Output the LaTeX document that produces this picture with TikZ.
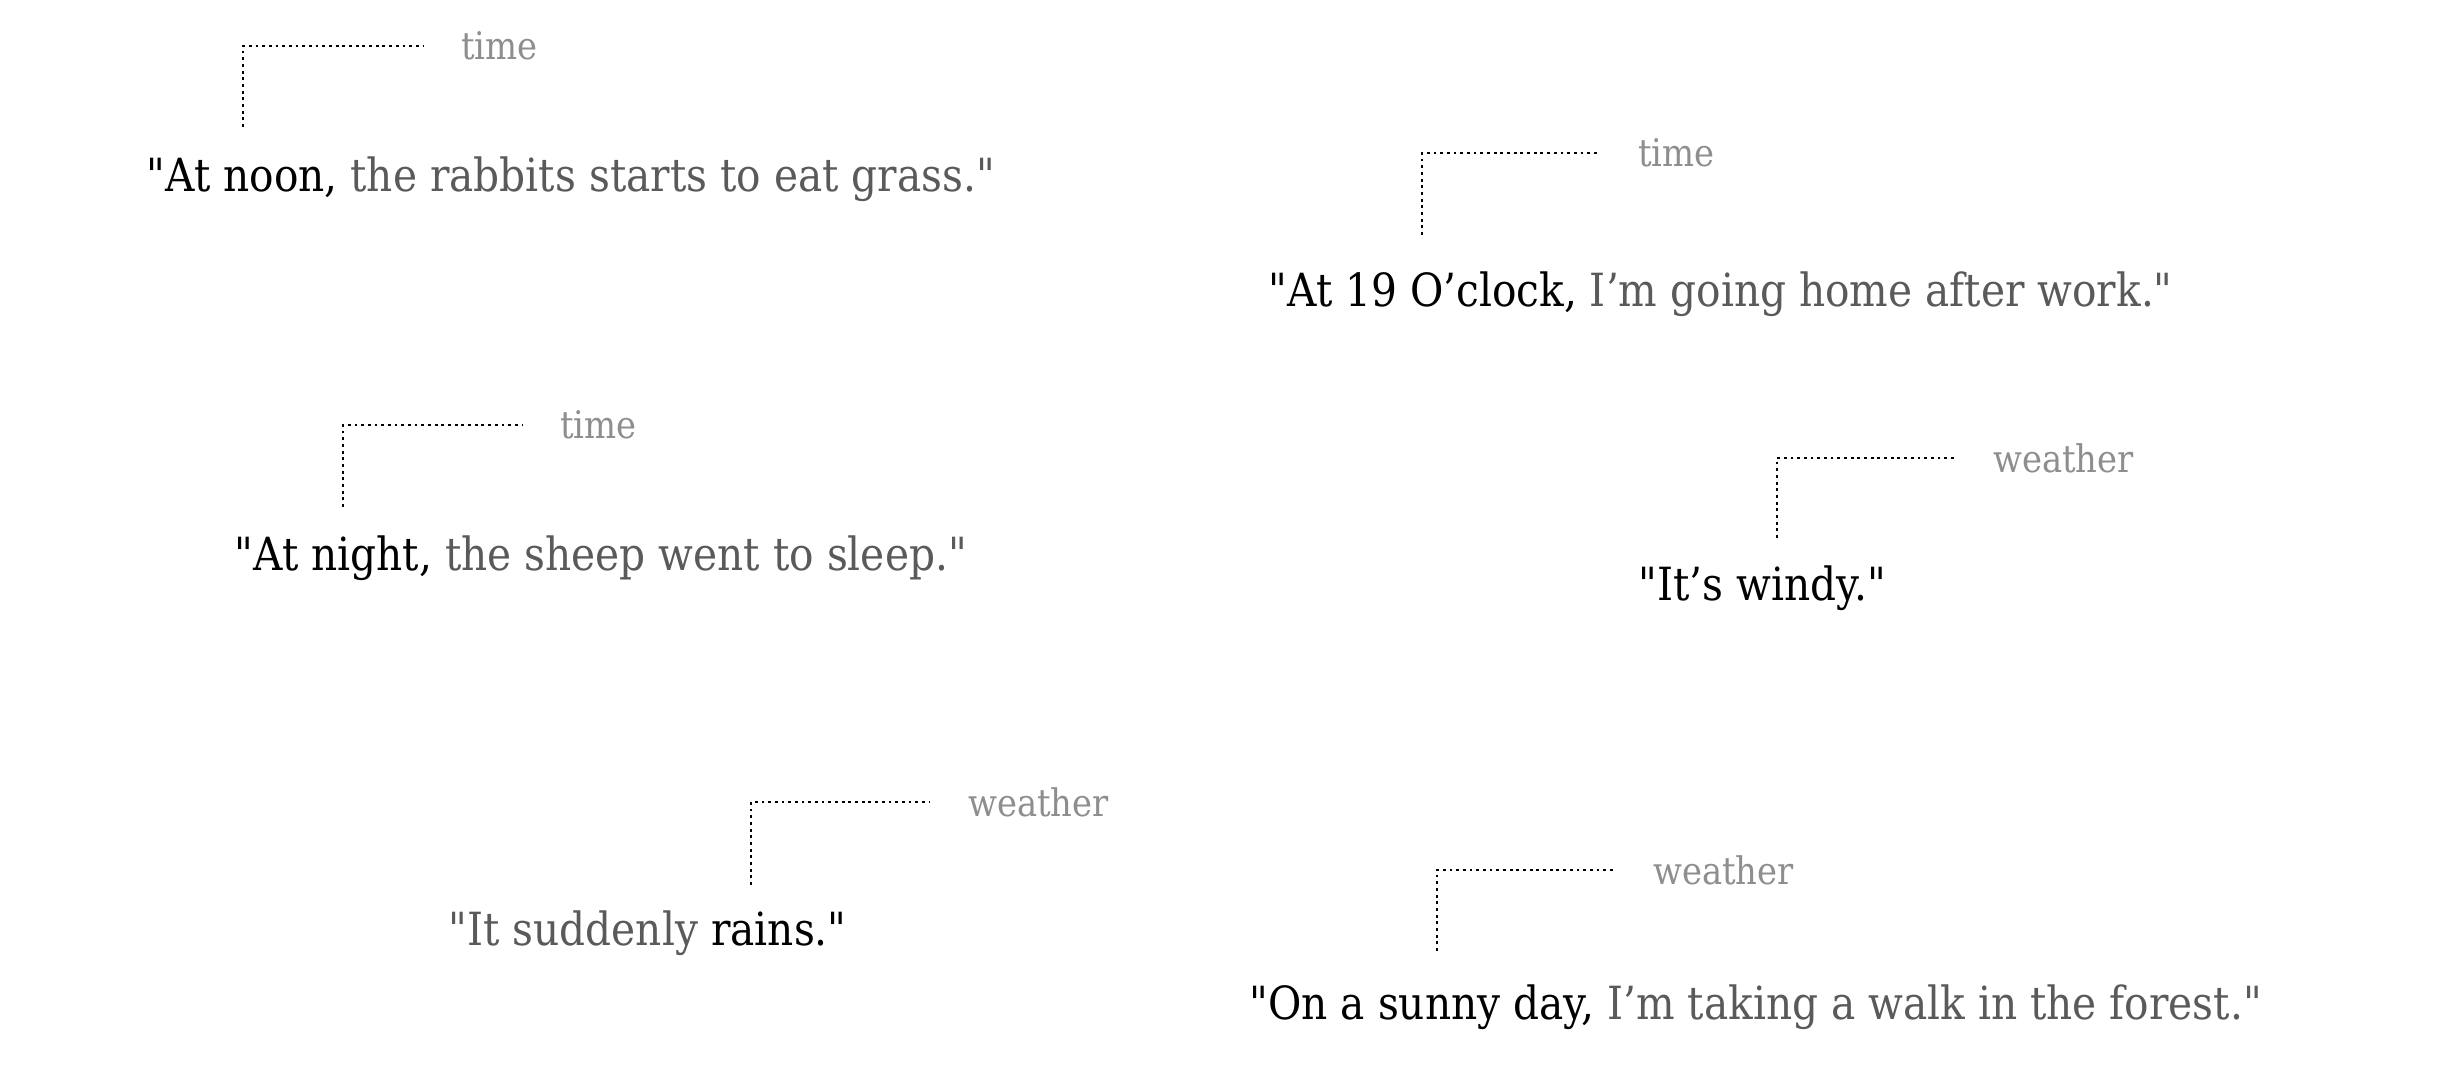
\documentclass[tikz,border=0pt]{standalone}
\usepackage{fontspec}
\setmainfont{DejaVu Serif}[FakeStretch=0.89, Ligatures=TeXOff]
\definecolor{textgray}{HTML}{5A5A5A}
\definecolor{taggray}{HTML}{8E8E8E}
\newcommand{\rest}[1]{\textcolor{textgray}{#1}}

\begin{document}
\begin{tikzpicture}[x=0.01cm, y=-0.01cm,
                    sent/.style={anchor=base west, inner sep=0pt, font=\fontsize{13}{16}\selectfont},
                    tag/.style={anchor=west, inner sep=3pt, text=taggray, font=\fontsize{10.8}{13}\selectfont},
                    leader/.style={draw=black, line width=0.8pt, dash pattern=on 0.8pt off 1.1pt, shorten >=7.7pt}]

                    \useasboundingbox (0,0) rectangle (2460,1074);

                    % Define nodes
                    \node[sent] (S1) at (146,192) {"At noon, \rest{the rabbits starts to eat grass."}}; % time
                    \node[sent] (S2) at (234,571) {"At night, \rest{the sheep went to sleep."}}; % time
                    \node[sent] (S3) at (1268,307) {"At 19 O’clock, \rest{I’m going home after work."}}; % time
                    \node[sent] (S4) at (1638,601) {"It’s windy."}; % weather
                    \node[sent] (S5) at (448,946) {\rest{"It suddenly} rains."}; % weather
                    \node[sent] (S6) at (1249,1020) {"On a sunny day, \rest{I’m taking a walk in the forest."}}; % weather

                    \node[tag] (T1) at (450,46) {time};
                    \node[tag] (T2) at (549,425) {time};
                    \node[tag] (T3) at (1627,153) {time};
                    \node[tag] (T4) at (1982,458) {weather};
                    \node[tag] (T5) at (957,802) {weather};
                    \node[tag] (T6) at (1642,870) {weather};

                    \coordinate (B1) at (243,127);
                    \coordinate (B2) at (343,507);
                    \coordinate (B3) at (1422,235);
                    \coordinate (B4) at (1777,538);
                    \coordinate (B5) at (751,885);
                    \coordinate (B6) at (1437,951);

                    % Define edges
                    \draw[leader] (B1) |- (T1);
                    \draw[leader] (B2) |- (T2);
                    \draw[leader] (B3) |- (T3);
                    \draw[leader] (B4) |- (T4);
                    \draw[leader] (B5) |- (T5);
                    \draw[leader] (B6) |- (T6);
\end{tikzpicture}
\end{document}
